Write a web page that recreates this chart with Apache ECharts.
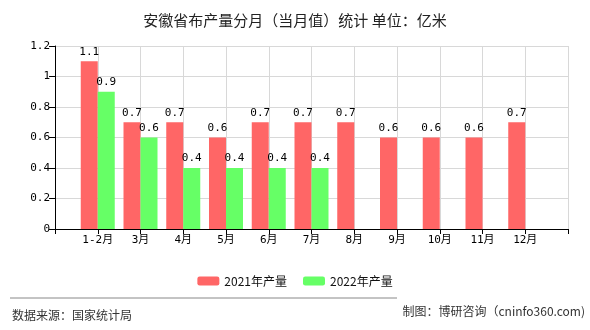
<!DOCTYPE html>
<html>
<head>
<meta charset="utf-8">
<script src="https://cdn.jsdelivr.net/npm/echarts@6/dist/echarts.min.js"></script>
<style>html,body{margin:0;padding:0;background:#fff;}#c{width:590px;height:330px;}</style>
</head>
<body>
<div id="c"></div>
<script>
var categories = ['1-2月','3月','4月','5月','6月','7月','8月','9月','10月','11月','12月'];
var values2021 = [1.1,0.7,0.7,0.6,0.7,0.7,0.7,0.6,0.6,0.6,0.7];
var values2022 = [0.9,0.6,0.4,0.4,0.4,0.4,null,null,null,null,null];
var seriesNames = ['2021年产量','2022年产量'];
var titleText = '安徽省布产量分月（当月值）统计 单位：亿米';
var sourceText = '数据来源：国家统计局';
var makerText = '制图：博研咨询（cninfo360.com)';

var cats = [''].concat(categories).concat(['']);
function pad(a){ return [null].concat(a).concat([null]); }

var cjk = '"Noto Sans CJK SC", sans-serif';
var mono = '"DejaVu Sans Mono", "Noto Sans CJK SC", monospace';

var chart = echarts.init(document.getElementById('c'));
chart.setOption({
  animation: false,
  backgroundColor: '#fff',
  title: {
    text: titleText, left: 'center', top: 8,
    textStyle: { fontFamily: cjk, fontSize: 15, fontWeight: 'normal', color: '#222' }
  },
  legend: {
    data: seriesNames, left: 'center', top: 270, itemWidth: 22, itemHeight: 9, itemGap: 16,
    textStyle: { fontFamily: cjk, fontSize: 12, color: '#111' }
  },
  grid: { left: 55, right: 22, top: 46, bottom: 101, containLabel: false },
  xAxis: {
    type: 'category', data: cats, boundaryGap: false,
    axisLine: { lineStyle: { color: '#000' } },
    axisTick: { show: true, length: 5, lineStyle: { color: '#000' } },
    axisLabel: { fontFamily: mono, fontSize: 11, color: '#000', margin: 6, interval: 0 },
    splitLine: { show: true, lineStyle: { color: '#d8d8d8' } }
  },
  yAxis: {
    type: 'value', min: 0, max: 1.2, interval: 0.2,
    axisLine: { show: true, lineStyle: { color: '#000' } },
    axisTick: { show: true, length: 6, lineStyle: { color: '#000' } },
    axisLabel: { fontFamily: mono, fontSize: 11, color: '#000', margin: 5 },
    splitLine: { show: true, lineStyle: { color: '#d8d8d8' } }
  },
  series: [
    {
      name: seriesNames[0], type: 'bar', data: pad(values2021), barWidth: 17, barGap: '0%',
      itemStyle: { color: '#FF6666' },
      label: { show: true, position: 'top', distance: 4, fontFamily: mono, fontSize: 11, color: '#000' }
    },
    {
      name: seriesNames[1], type: 'bar', data: pad(values2022), barWidth: 17, barGap: '0%',
      itemStyle: { color: '#66FF66' },
      label: { show: true, position: 'top', distance: 4, fontFamily: mono, fontSize: 11, color: '#000' }
    }
  ],
  graphic: [
    { type: 'line', shape: { x1: 10, y1: 298, x2: 397, y2: 298 }, style: { stroke: '#888', lineWidth: 1 } },
    { type: 'text', left: 12, top: 309, style: { text: sourceText, fontFamily: cjk, fontSize: 12, fill: '#333' } },
    { type: 'text', right: 5, top: 305, style: { text: makerText, fontFamily: cjk, fontSize: 12, fill: '#333' } }
  ]
});
</script>
</body>
</html>
